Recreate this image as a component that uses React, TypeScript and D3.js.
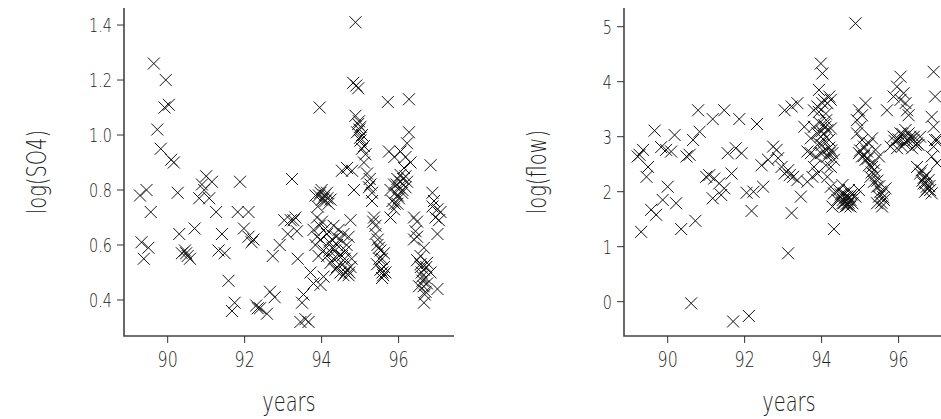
import React, { useEffect, useRef } from 'react';
import * as d3 from 'd3';

// [year, log(SO4)]
const so4Points: [number, number][] = [
  [89.28, 0.78], [89.45, 0.80], [89.56, 0.72], [89.32, 0.61], [89.50, 0.59], [89.38, 0.55],
  [89.64, 1.26], [89.95, 1.20], [89.73, 1.02], [89.82, 0.95], [89.92, 1.10], [90.03, 1.11],
  [90.09, 0.91], [90.16, 0.90], [90.26, 0.79], [90.30, 0.64], [90.37, 0.57], [90.45, 0.58],
  [90.52, 0.56], [90.58, 0.55], [90.48, 0.57], [90.70, 0.66], [90.82, 0.77], [90.89, 0.82],
  [91.00, 0.85], [90.95, 0.80], [91.15, 0.83], [91.08, 0.77], [91.26, 0.72], [91.41, 0.64],
  [91.32, 0.58], [91.48, 0.57], [91.58, 0.47], [91.74, 0.39], [91.67, 0.36], [91.88, 0.83],
  [91.82, 0.72], [92.10, 0.72], [91.98, 0.66], [92.10, 0.63], [92.23, 0.62], [92.18, 0.61],
  [92.30, 0.38], [92.34, 0.37], [92.40, 0.37], [92.58, 0.35], [92.66, 0.43], [92.78, 0.41],
  [92.73, 0.56], [92.91, 0.60], [93.03, 0.69], [93.12, 0.64], [93.20, 0.69], [93.23, 0.84],
  [93.32, 0.70], [93.38, 0.55], [93.49, 0.39], [93.53, 0.42], [93.45, 0.32], [93.66, 0.32],
  [93.58, 0.33], [93.71, 0.50], [93.95, 1.10], [93.79, 0.46], [93.97, 0.455], [94.05, 0.485],
  [93.36, 0.65], [93.27, 0.69], [93.84, 0.78], [93.97, 0.79], [94.05, 0.77], [94.14, 0.79],
  [94.10, 0.76], [94.01, 0.765], [94.23, 0.765], [93.93, 0.78], [94.18, 0.75], [93.88, 0.70],
  [94.01, 0.685], [93.79, 0.655], [93.88, 0.63], [93.97, 0.62], [93.84, 0.60], [94.05, 0.58],
  [94.14, 0.56], [94.23, 0.535], [94.31, 0.55], [94.40, 0.52], [94.49, 0.50], [94.57, 0.49],
  [94.66, 0.51], [94.75, 0.52], [94.53, 0.56], [94.62, 0.58], [94.70, 0.63], [94.75, 0.69],
  [94.40, 0.60], [94.27, 0.62], [94.14, 0.64], [94.44, 0.655], [94.31, 0.67], [94.57, 0.64],
  [94.36, 0.51], [94.62, 0.50], [94.70, 0.49], [94.20, 0.58], [93.92, 0.56], [94.53, 0.87],
  [94.35, 0.58], [94.45, 0.56], [94.55, 0.53], [94.60, 0.55], [94.72, 0.50], [94.78, 0.55],
  [94.48, 0.62], [94.38, 0.63], [94.28, 0.59], [94.65, 0.60], [94.20, 0.61], [94.10, 0.66],
  [93.95, 0.67], [93.90, 0.74], [94.00, 0.80], [94.08, 0.78], [94.15, 0.77],
  [94.66, 0.88], [94.79, 0.87], [94.84, 0.80], [94.88, 1.41], [94.82, 1.19], [94.90, 1.18],
  [94.95, 1.17], [94.88, 1.07], [94.97, 1.05], [95.01, 1.03], [94.92, 1.01], [95.05, 1.00],
  [95.01, 0.98], [95.10, 0.96], [95.05, 0.95], [95.14, 0.93], [95.10, 0.90], [95.18, 0.86],
  [94.98, 1.02], [95.00, 0.99], [94.95, 1.04],
  [95.25, 0.84], [95.27, 0.82], [95.23, 0.81], [95.31, 0.79], [95.31, 0.76], [95.36, 0.70],
  [95.34, 0.685], [95.40, 0.67], [95.40, 0.64], [95.46, 0.62], [95.49, 0.59], [95.53, 0.58],
  [95.62, 0.57], [95.57, 0.55], [95.62, 0.52], [95.53, 0.51], [95.66, 0.50], [95.57, 0.48],
  [95.58, 0.50], [95.60, 0.49], [95.50, 0.55], [95.45, 0.60],
  [95.44, 0.53], [95.72, 1.12], [95.75, 0.94], [95.89, 0.92], [96.05, 0.94], [96.22, 0.97],
  [96.27, 1.01], [96.18, 0.92], [96.31, 0.90], [96.27, 1.13], [96.14, 0.88], [96.05, 0.855],
  [95.97, 0.84], [95.88, 0.82], [96.18, 0.85], [96.01, 0.81], [95.79, 0.80], [95.92, 0.79],
  [96.09, 0.79], [95.84, 0.76], [95.97, 0.75], [95.88, 0.73], [95.79, 0.70], [96.01, 0.77],
  [96.18, 0.81], [96.22, 0.83], [95.95, 0.82], [96.05, 0.83], [96.10, 0.80], [95.98, 0.78],
  [95.90, 0.75], [96.12, 0.84],
  [96.40, 0.70], [96.48, 0.685], [96.44, 0.65], [96.48, 0.63],
  [96.40, 0.62], [96.66, 0.59], [96.48, 0.545], [96.57, 0.53], [96.66, 0.51], [96.74, 0.535],
  [96.61, 0.485], [96.74, 0.46], [96.70, 0.43], [96.66, 0.39], [96.53, 0.45], [97.01, 0.44],
  [96.83, 0.50], [96.57, 0.56], [96.62, 0.47], [96.60, 0.50], [96.70, 0.48], [96.65, 0.45],
  [96.72, 0.52], [96.58, 0.52], [96.68, 0.42],
  [96.83, 0.89], [96.88, 0.79], [96.92, 0.76],
  [97.01, 0.73], [96.96, 0.70], [97.05, 0.69], [97.01, 0.64], [96.88, 0.74], [97.09, 0.72],
];

// [year, log(flow)]
const flowPoints: [number, number][] = [
  [89.31, 1.27], [89.27, 2.67], [89.36, 2.76], [89.22, 2.64], [89.49, 2.45], [89.45, 2.27],
  [89.66, 3.11], [89.57, 1.67], [89.70, 1.58], [89.87, 1.85], [90.00, 2.09], [89.83, 2.81],
  [89.96, 2.76], [90.09, 2.73], [90.18, 3.03], [90.22, 1.79], [90.35, 1.32], [90.49, 2.64],
  [90.57, 2.67], [90.66, 2.94], [90.83, 3.09], [90.79, 3.48], [91.17, 3.32], [91.47, 3.48],
  [91.86, 3.32], [92.32, 3.23], [90.72, 1.47], [90.61, -0.03], [91.00, 2.27], [91.08, 2.30],
  [91.21, 2.24], [91.34, 2.15], [91.47, 2.06], [91.39, 1.94], [91.17, 1.88], [91.66, 2.33],
  [91.56, 2.70], [91.77, 2.79], [91.92, 2.70], [92.05, 1.98], [92.23, 2.00], [92.48, 2.09],
  [92.18, 1.65], [91.70, -0.36], [92.11, -0.26], [92.44, 2.48], [92.61, 2.58], [92.74, 2.82],
  [92.83, 2.76], [92.96, 2.45], [92.87, 2.61], [93.04, 2.33], [93.13, 2.39], [93.04, 3.48],
  [93.22, 3.55], [93.37, 3.61], [93.22, 1.61], [93.13, 0.88], [93.17, 2.30], [93.26, 2.27],
  [93.37, 2.21], [93.46, 1.91], [93.63, 2.18], [93.55, 3.18], [93.63, 2.73],
  [93.98, 4.33], [94.02, 4.15], [93.93, 3.85], [93.80, 3.48], [93.93, 3.45], [94.02, 3.61],
  [94.06, 3.67], [94.15, 3.61], [94.24, 3.67], [94.11, 3.42], [94.20, 3.73], [93.89, 3.55],
  [93.80, 3.18], [93.89, 3.06], [93.98, 3.00], [94.06, 3.21], [94.15, 3.12], [94.24, 3.15],
  [94.06, 2.94], [93.93, 2.88], [94.19, 2.94], [93.72, 2.70], [93.85, 2.64], [93.98, 2.70],
  [94.06, 2.73], [94.15, 2.64], [94.28, 2.70], [94.32, 2.58], [94.24, 2.45], [94.11, 2.48],
  [94.00, 3.10], [94.05, 3.05], [94.10, 3.18], [94.00, 2.85], [94.20, 2.80], [94.25, 2.75],
  [93.95, 3.25], [94.12, 3.30], [94.20, 2.70],
  [93.72, 2.97], [93.80, 2.45], [93.89, 2.33], [93.76, 2.27], [94.15, 2.27], [94.24, 2.09],
  [94.32, 1.97], [94.41, 1.85], [94.49, 1.91], [94.58, 1.79], [94.67, 1.85], [94.75, 1.73],
  [94.45, 2.03], [94.62, 1.91], [94.32, 1.32], [94.28, 1.73], [94.58, 1.97], [94.67, 1.91],
  [94.75, 1.85], [94.54, 1.79], [94.62, 1.73], [94.80, 1.79], [94.71, 2.03], [94.97, 2.03],
  [94.54, 2.12], [94.88, 1.91], [94.55, 1.85], [94.60, 1.82], [94.65, 1.78], [94.70, 1.80],
  [94.72, 1.90], [94.50, 1.95], [94.68, 1.75], [94.78, 1.95],
  [94.88, 5.06], [94.92, 3.30], [94.97, 3.48], [95.05, 3.39], [95.14, 3.61], [95.01, 3.18],
  [94.92, 3.06], [94.97, 2.70], [95.05, 2.64], [95.14, 2.58], [95.23, 2.48], [95.31, 2.45],
  [95.18, 2.73], [95.36, 2.39], [95.10, 2.82], [95.27, 2.27], [95.36, 2.18], [95.44, 2.09],
  [95.53, 2.00], [95.49, 1.91], [95.62, 1.85], [95.57, 1.97], [95.66, 2.06], [95.44, 1.79],
  [95.57, 1.73], [95.05, 2.94], [95.23, 2.88], [95.31, 2.97], [95.40, 2.76], [95.49, 2.64],
  [95.35, 2.52], [95.30, 2.35], [95.40, 2.30], [95.45, 2.20], [95.50, 2.10], [95.60, 1.90],
  [95.55, 1.80], [95.00, 2.75], [95.10, 2.65], [95.20, 2.60],
  [95.87, 3.00], [95.96, 2.94], [96.05, 3.06], [96.13, 3.00], [96.22, 2.94], [96.31, 3.00],
  [96.39, 2.94], [96.48, 2.88], [96.56, 3.00], [96.18, 3.12], [96.26, 3.06], [96.09, 2.82],
  [95.96, 2.79], [95.79, 2.82], [96.35, 2.79], [96.52, 2.85], [95.70, 3.48], [96.05, 4.09],
  [96.00, 2.95], [96.10, 3.05], [96.20, 2.90], [96.30, 2.95], [96.40, 3.00], [96.15, 2.88],
  [95.90, 2.92], [96.45, 2.85],
  [95.96, 3.91], [96.13, 3.79], [95.87, 3.73], [96.05, 3.67], [96.18, 3.61], [96.26, 3.39],
  [96.22, 3.48], [96.48, 2.45], [96.60, 2.39], [96.69, 2.27], [96.78, 2.21], [96.65, 2.15],
  [96.73, 2.09], [96.82, 2.03], [96.56, 2.33], [96.86, 1.97], [96.69, 2.00], [96.65, 2.25],
  [96.70, 2.15], [96.75, 2.05], [96.80, 2.10], [96.72, 2.30], [96.62, 2.20], [96.91, 4.18],
  [96.95, 3.73], [96.86, 3.36], [96.91, 3.18], [97.00, 2.94], [96.91, 2.82], [96.86, 2.64],
  [97.00, 2.52], [96.95, 2.94],
];

const yearTicks = [90, 92, 94, 96];
const so4Ticks = [0.4, 0.6, 0.8, 1.0, 1.2, 1.4];
const flowTicks = [0, 1, 2, 3, 4, 5];

const FONT = "'DejaVu Sans', sans-serif";

const App = () => {
  const svgRef = useRef<SVGSVGElement | null>(null);

  useEffect(() => {
    if (!svgRef.current) return;
    const width = 941;
    const height = 419;
    const svg = d3.select(svgRef.current)
      .attr("width", width)
      .attr("height", height);
    svg.selectAll("*").remove();

    // condensed light text, like the original device font
    const label = (x: number, y: number, txt: string, size: number, anchor: string, rotate = 0) => {
      svg.append("text")
        .attr("transform", `translate(${x},${y}) rotate(${rotate}) scale(0.72,1)`)
        .attr("text-anchor", anchor)
        .attr("fill", "#222")
        .style("font-family", FONT)
        .style("font-weight", 200)
        .style("font-size", `${size}px`)
        .text(txt);
    };

    const drawPanel = (left: number, pts: [number, number][], yDomain: [number, number],
                       ticks: number[], fmt: (v: number) => string, yTitle: string) => {
      const top = 8, bottom = 336, w = 330;
      const x = d3.scaleLinear().domain([88.865, 97.44]).range([left, left + w]);
      const y = d3.scaleLinear().domain(yDomain).range([bottom, top]);

      // markers
      const s = 6;
      const g = svg.append("g").attr("stroke", "#111").attr("stroke-width", 1).attr("fill", "none");
      g.selectAll("path")
        .data(pts)
        .enter().append("path")
        .attr("d", d => {
          const cx = x(d[0]), cy = y(d[1]);
          return `M${cx - s},${cy - s}L${cx + s},${cy + s}M${cx - s},${cy + s}L${cx + s},${cy - s}`;
        });

      // axes
      svg.append("path")
        .attr("d", `M${left},${top}V${bottom}H${left + w}`)
        .attr("fill", "none")
        .attr("stroke", "#444")
        .attr("stroke-width", 1.6);

      yearTicks.forEach(t => {
        svg.append("line")
          .attr("x1", x(t)).attr("x2", x(t))
          .attr("y1", bottom).attr("y2", bottom + 7)
          .attr("stroke", "#333");
        label(x(t), 367, String(t), 22, "middle");
      });

      ticks.forEach(t => {
        svg.append("line")
          .attr("x1", left - 7).attr("x2", left)
          .attr("y1", y(t)).attr("y2", y(t))
          .attr("stroke", "#333");
        label(left - 12, y(t) + 7, fmt(t), 20, "end");
      });

      label(left + w / 2, 411, "years", 27, "middle");
      label(left - 78, (top + bottom) / 2, yTitle, 27, "middle", -90);
    };

    drawPanel(124, so4Points, [0.269, 1.462], so4Ticks, v => v.toFixed(1), "log(SO4)");
    drawPanel(624, flowPoints, [-0.624, 5.34], flowTicks, v => String(v), "log(flow)");
  }, []);

  return (
    <div style={{ position: "absolute", left: 0, top: 0, background: "#fff" }}>
      <svg ref={svgRef}></svg>
    </div>
  );
};

export default App;
